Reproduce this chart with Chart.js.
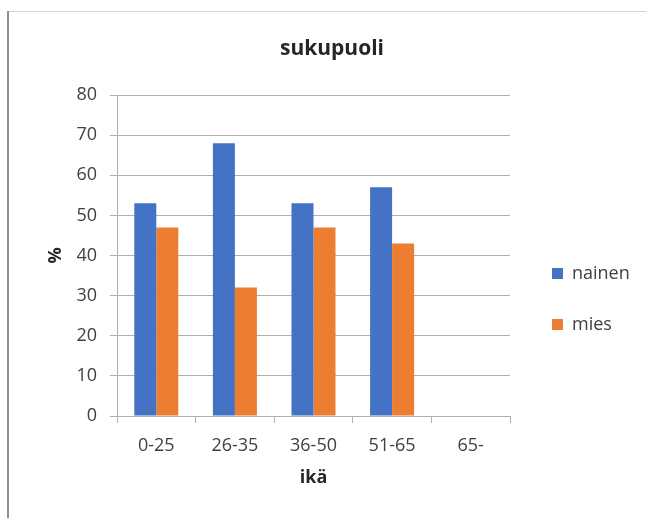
<!DOCTYPE html>
<html>
<head>
<meta charset="utf-8">
<title>sukupuoli</title>
<script src="https://cdn.jsdelivr.net/npm/chart.js@4"></script>
<style>
  html, body { margin: 0; padding: 0; background: #ffffff; }
  #wrap { width: 646px; height: 518px; position: relative; }
</style>
</head>
<body>
<div id="wrap"><canvas id="chart"></canvas></div>
<script>
// Age groups and the share (%) of women and men in each group
const ageGroups = ['0-25', '26-35', '36-50', '51-65', '65-'];
const nainen = [53, 68, 53, 57, 0];
const mies = [47, 32, 47, 43, 0];
const yTicks = [0, 10, 20, 30, 40, 50, 60, 70, 80];

const GRID = '#b0b0b0';
const TEXT = '#404040';
const FONT = "'Open Sans', 'DejaVu Sans', sans-serif";
const LEGEND_WIDTH = 121;

Chart.defaults.font.family = FONT;

// Outer frame lines of the chart panel
const framePlugin = {
  id: 'frame',
  beforeDraw(chart) {
    const ctx = chart.ctx;
    ctx.save();
    ctx.fillStyle = '#d4d4d4';
    ctx.fillRect(8, 11, chart.width - 8, 1);
    ctx.fillStyle = '#8f8f8f';
    ctx.fillRect(7, 11, 2, chart.height - 11);
    ctx.restore();
  }
};

// Give the legend column a fixed width so the labels are not clipped
const legendWidthPlugin = {
  id: 'legendWidth',
  beforeLayout(chart) {
    const lg = chart.legend;
    if (lg && !lg.__fixedWidth) {
      const fit = lg.fit.bind(lg);
      lg.fit = function () {
        fit();
        this.width = LEGEND_WIDTH;
      };
      lg.__fixedWidth = true;
    }
  }
};

new Chart(document.getElementById('chart'), {
  type: 'bar',
  data: {
    labels: ageGroups,
    datasets: [
      { label: 'nainen', data: nainen, backgroundColor: '#4472c4', borderWidth: 0 },
      { label: 'mies', data: mies, backgroundColor: '#ed7d31', borderWidth: 0 }
    ]
  },
  options: {
    responsive: true,
    maintainAspectRatio: false,
    animation: false,
    devicePixelRatio: 1,
    layout: { padding: { left: 24, right: 6, top: 0, bottom: 0 } },
    datasets: { bar: { categoryPercentage: 0.56, barPercentage: 1.0 } },
    plugins: {
      title: {
        display: true,
        text: 'sukupuoli',
        color: '#262626',
        font: { size: 21, weight: 'bold', lineHeight: 1.2 },
        padding: { top: 36, bottom: 33.8 }
      },
      legend: {
        position: 'right',
        align: 'start',
        title: {
          display: true,
          text: '',
          font: { size: 10, lineHeight: 1 },
          padding: { top: 0, bottom: 221.5 }
        },
        labels: {
          boxWidth: 11,
          boxHeight: 11,
          padding: 33,
          color: TEXT,
          font: { size: 18 }
        }
      },
      tooltip: { enabled: false }
    },
    scales: {
      x: {
        grid: {
          display: true,
          drawOnChartArea: false,
          drawTicks: true,
          tickLength: 7,
          color: GRID,
          offset: true
        },
        border: { display: true, color: GRID, width: 1 },
        ticks: { color: TEXT, font: { size: 18 }, padding: 12, maxRotation: 0 },
        title: {
          display: true,
          text: 'ikä',
          color: '#262626',
          font: { size: 18, weight: 'bold', lineHeight: 1.2 },
          padding: { top: 0, bottom: 29 }
        },
        afterFit(scale) { scale.height = 102; }
      },
      y: {
        min: 0,
        max: 80,
        afterBuildTicks(scale) { scale.ticks = yTicks.map(v => ({ value: v })); },
        grid: { color: GRID, lineWidth: 1, drawTicks: true, tickLength: 7 },
        border: { display: true, color: GRID, width: 1 },
        ticks: { color: TEXT, font: { size: 18 }, padding: 13 },
        title: {
          display: true,
          text: '%',
          color: '#262626',
          font: { size: 18, weight: 'bold', lineHeight: 1.2 },
          padding: { top: 20.7, bottom: 0 }
        },
        afterFit(scale) { scale.width = 93; }
      },
      // empty spacer between the plot and the legend
      gap: {
        type: 'linear',
        position: 'right',
        display: true,
        grid: { display: false },
        border: { display: false },
        ticks: { display: false },
        afterFit(scale) { scale.width = 9; }
      }
    }
  },
  plugins: [framePlugin, legendWidthPlugin]
});
</script>
</body>
</html>
